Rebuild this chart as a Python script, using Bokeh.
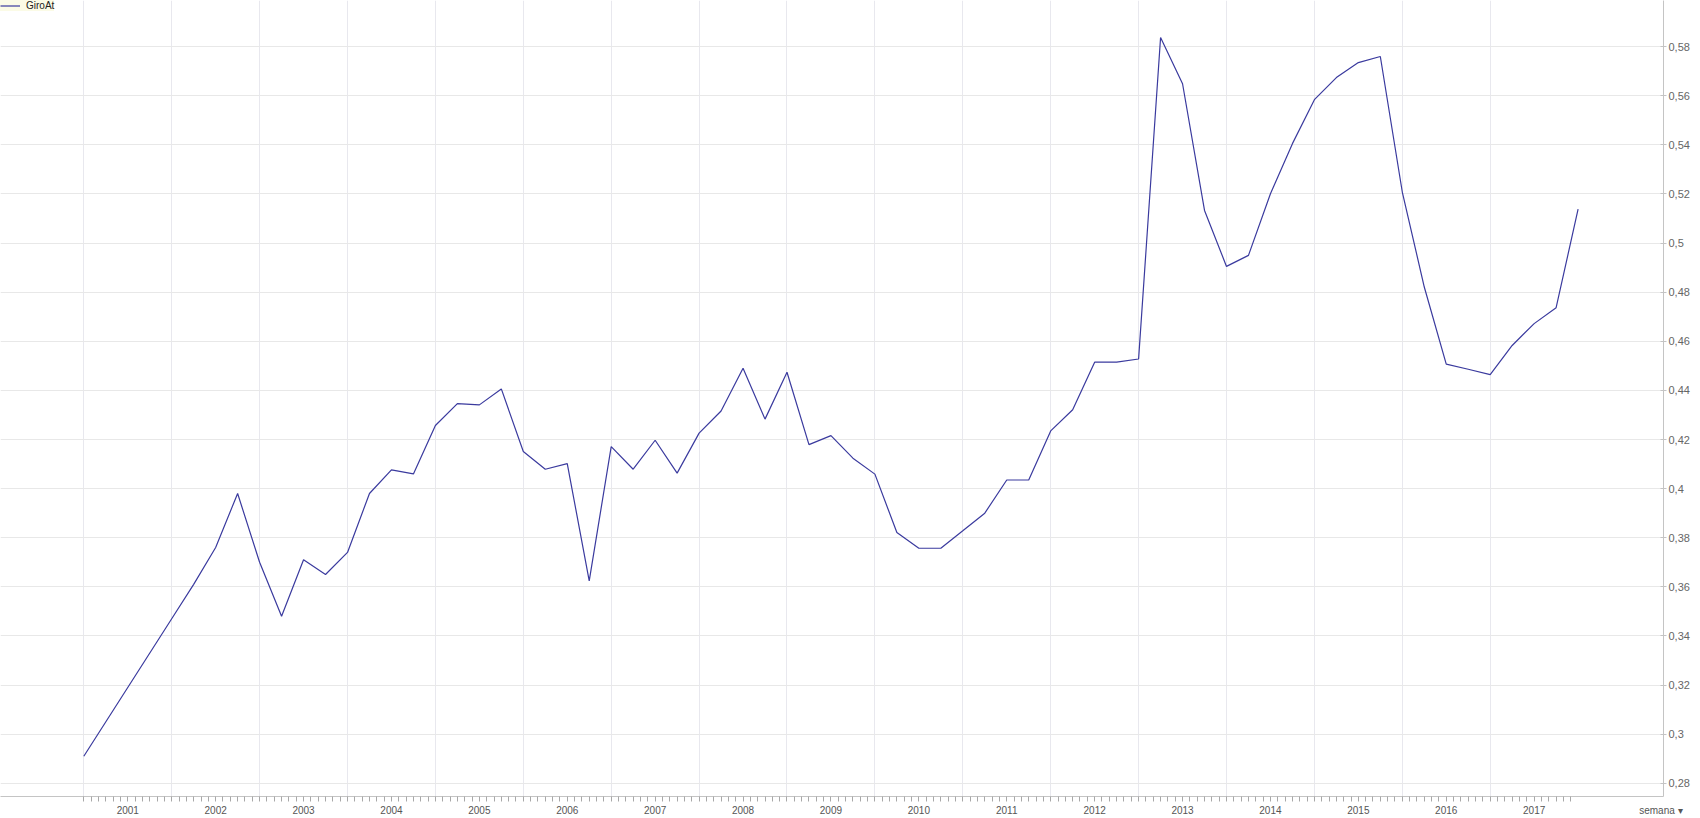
from bokeh.plotting import figure
from bokeh.models import (Range1d, FixedTicker, Legend, LegendItem,
                          ColumnDataSource)
from bokeh.embed import file_html
from bokeh.resources import INLINE

# ---- data (decimal year of each quarterly observation, value) ----
periods = [2001.00, 2002.00, 2002.25, 2002.50, 2002.75,
           2003.00, 2003.25, 2003.50, 2003.75,
           2004.00, 2004.25, 2004.50, 2004.75,
           2005.00, 2005.25, 2005.50, 2005.75,
           2006.00, 2006.25, 2006.50, 2006.75,
           2007.00, 2007.25, 2007.50, 2007.75,
           2008.00, 2008.25, 2008.50, 2008.75,
           2009.00, 2009.25, 2009.50, 2009.75,
           2010.00, 2010.25, 2010.50, 2010.75,
           2011.00, 2011.25, 2011.50, 2011.75,
           2012.00, 2012.25, 2012.50, 2012.75,
           2013.00, 2013.25, 2013.50, 2013.75,
           2014.00, 2014.25, 2014.50, 2014.75,
           2015.00, 2015.25, 2015.50, 2015.75,
           2016.00, 2016.25, 2016.50, 2016.75,
           2017.00, 2017.25, 2017.50, 2017.75,
           2018.00]
giro_at = [0.291, 0.347, 0.361, 0.376, 0.398,
           0.370, 0.348, 0.371, 0.365,
           0.374, 0.398, 0.4076, 0.406,
           0.4257, 0.4346, 0.4341, 0.4406,
           0.4151, 0.4079, 0.4102, 0.3624,
           0.4171, 0.4079, 0.4197, 0.4063,
           0.4226, 0.4316, 0.4490, 0.4283,
           0.4474, 0.4179, 0.4216, 0.4124,
           0.4059, 0.3821, 0.3757, 0.3757,
           0.3828, 0.3900, 0.4035, 0.4035,
           0.4235, 0.4321, 0.4515, 0.4515,
           0.4528, 0.5837, 0.5649, 0.5133,
           0.4905, 0.4950, 0.5201, 0.5405,
           0.5584, 0.5674, 0.5735, 0.5760,
           0.5208, 0.4821, 0.4507, 0.4486,
           0.4464, 0.4583, 0.4672, 0.4737,
           0.5138]
year_labels = ["2001", "2002", "2003", "2004", "2005", "2006", "2007", "2008",
               "2009", "2010", "2011", "2012", "2013", "2014", "2015", "2016",
               "2017"]
y_ticks = [0.28, 0.30, 0.32, 0.34, 0.36, 0.38, 0.40, 0.42, 0.44, 0.46, 0.48,
           0.50, 0.52, 0.54, 0.56, 0.58]
y_tick_labels = ["0,28", "0,3", "0,32", "0,34", "0,36", "0,38", "0,4", "0,42",
                 "0,44", "0,46", "0,48", "0,5", "0,52", "0,54", "0,56", "0,58"]
period_selector = "semana \u25be"

FONT = "Liberation Sans"
X0, X1 = 2000.0523, 2018.9716

p = figure(width=1700, height=818, output_backend="svg", toolbar_location=None,
           x_range=Range1d(X0, X1), y_range=Range1d(0.2746, 0.5988),
           x_axis_location="below", y_axis_location="right",
           min_border=0, min_border_left=0, min_border_top=0,
           min_border_right=37, min_border_bottom=21,
           outline_line_color=None, background_fill_color="white",
           border_fill_color="white")

# year boundaries, mid-year label positions, monthly minor ticks
starts = [int(y) for y in year_labels]
mids = [s + 0.5 for s in starts]
months = [s + m / 12.0 for s in starts for m in range(12)]
selector_pos = X1 - 0.03   # the period selector sits at the right end of the axis

xa = p.xaxis[0]
xa.ticker = FixedTicker(ticks=mids + [selector_pos], minor_ticks=months)
overrides = {m: lab for m, lab in zip(mids, year_labels)}
overrides[selector_pos] = period_selector
xa.major_label_overrides = overrides
xa.major_tick_line_color = None
xa.minor_tick_in = 0
xa.minor_tick_out = 5
xa.minor_tick_line_color = "#a8a8a8"
xa.axis_line_color = "#c4c4c4"
xa.major_label_text_font = FONT
xa.major_label_text_font_size = "10px"
xa.major_label_text_color = "#555555"
xa.major_label_standoff = 2

ya = p.yaxis[0]
ya.ticker = FixedTicker(ticks=y_ticks)
ya.major_label_overrides = {t: lab for t, lab in zip(y_ticks, y_tick_labels)}
ya.axis_line_color = "#c4c4c4"
ya.major_tick_line_color = "#c4c4c4"
ya.major_tick_in = 3
ya.major_tick_out = 3
ya.minor_tick_line_color = None
ya.major_label_text_font = FONT
ya.major_label_text_font_size = "11px"
ya.major_label_text_color = "#666666"
ya.major_label_standoff = 2

p.xgrid.ticker = FixedTicker(ticks=starts)
p.xgrid.grid_line_color = "#e8e8ee"
p.ygrid.grid_line_color = "#e8e8e8"

src = ColumnDataSource(data=dict(t=periods, v=giro_at))
r = p.line(x="t", y="v", source=src, line_color="#3a3a9e", line_width=1.2)
# legend-only swatch frame (draws no data marks)
box = p.rect(x=[], y=[], width=1, height=1, fill_color="white",
             line_color="#333333", line_width=1)

legend = Legend(items=[LegendItem(label="GiroAt", renderers=[box, r])],
                location="top_left", margin=0, padding=3, spacing=0,
                background_fill_color="#fbfbe6", background_fill_alpha=1.0,
                border_line_color=None, label_text_font=FONT,
                label_text_font_size="10px", label_text_color="#222222",
                glyph_width=20, glyph_height=11, label_standoff=6,
                label_height=11)
p.add_layout(legend)

open("out.html", "w").write(file_html(p, INLINE))
